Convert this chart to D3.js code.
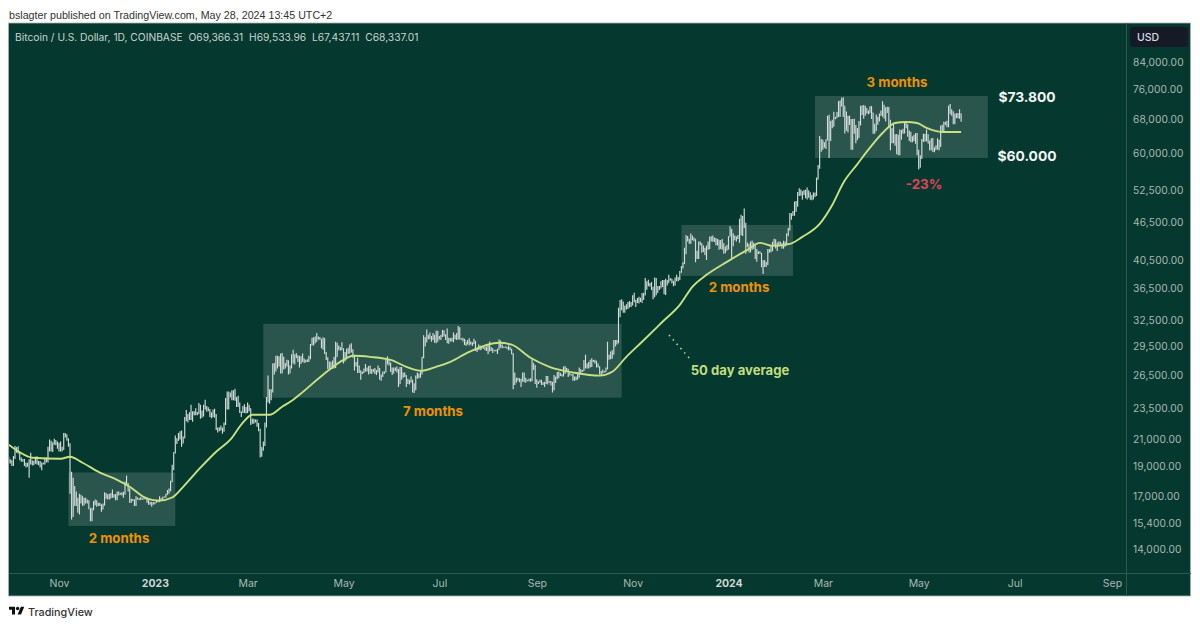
<!DOCTYPE html>
<html>
<head>
<meta charset="utf-8">
<title>Bitcoin / U.S. Dollar</title>
<script src="https://cdn.jsdelivr.net/npm/d3@7"></script>
<style>
  html, body { margin: 0; padding: 0; background: #fff; }
  svg { display: block; font-family: Inter, "Noto Sans", sans-serif; }
</style>
</head>
<body>
<svg id="chart" width="1200" height="626"></svg>
<script>
// daily bars in thousands of dollars, first day is 2022-09-30
var firstDay = '2022-09-30';

var closes = [
  19.42,
  // oct 22
  19.31,19.05,19.62,20.34,20.16,19.96,19.53,19.42,19.44,19.13,19.06,19.16,19.38,19.18,19.07,19.26,19.55,19.33,19.12,19.04,19.16,19.20,19.57,19.33,20.09,20.77,20.29,20.60,20.82,20.63,20.50,
  // nov
  20.48,20.15,20.21,21.15,21.30,20.93,20.60,18.54,15.88,17.59,17.04,16.80,16.35,16.62,16.90,16.66,16.69,16.69,16.70,16.28,15.78,16.19,16.61,16.60,16.52,16.46,16.43,16.21,16.44,17.17,
  // dec
  16.97,17.09,16.89,17.11,16.97,17.09,16.84,17.22,17.13,17.13,17.09,17.21,17.78,17.81,17.36,16.63,16.78,16.74,16.44,16.90,16.82,16.83,16.83,16.84,16.84,16.92,16.71,16.55,16.63,16.60,16.54,
  // jan 23
  16.61,16.67,16.67,16.85,16.83,16.95,16.94,17.09,17.20,17.44,17.94,18.85,19.93,20.95,20.87,21.18,21.13,20.67,21.07,22.67,22.78,22.71,22.92,22.63,23.06,23.02,23.08,23.03,23.74,22.84,23.13,
  // feb
  23.73,23.49,23.43,23.33,22.94,22.76,23.26,22.96,21.80,21.63,21.86,21.79,21.77,22.20,24.33,23.52,24.57,24.63,24.29,24.84,24.45,24.18,23.95,23.19,23.16,23.56,23.49,23.15,
  // mar
  23.65,23.47,22.36,22.35,22.43,22.41,22.20,21.71,20.36,20.19,20.63,22.16,24.20,24.75,24.38,25.05,27.42,26.97,28.04,27.77,28.17,27.31,28.33,27.49,27.49,28.00,27.14,27.27,28.35,28.03,28.47,
  // apr
  28.47,28.19,27.79,28.17,28.18,28.04,27.92,27.95,28.33,29.65,30.23,29.89,30.40,30.49,30.32,30.32,29.43,30.39,28.82,28.25,27.27,27.82,27.59,27.51,28.30,28.42,29.47,29.34,29.25,29.23,
  // may
  28.07,28.67,29.03,28.85,29.54,28.90,28.45,27.69,27.63,27.39,26.98,26.80,26.78,26.93,27.17,27.04,27.40,26.83,26.89,27.12,26.75,26.85,27.22,26.33,26.47,26.72,26.86,28.08,27.74,27.70,27.22,
  // jun
  26.82,27.25,27.07,27.12,25.73,27.24,26.34,26.50,26.48,25.85,25.94,25.90,25.92,25.13,25.58,26.34,26.51,26.34,26.84,28.31,30.03,29.99,30.69,30.55,30.47,30.27,30.69,30.08,30.45,30.48,
  // jul
  30.59,30.62,31.16,30.77,30.51,29.90,30.35,30.29,30.17,30.41,30.62,30.39,31.48,30.31,30.30,30.25,30.15,29.86,29.92,29.80,29.91,29.80,30.08,29.18,29.23,29.35,29.21,29.32,29.36,29.28,29.23,
  // aug
  29.70,29.18,29.19,29.08,29.04,29.05,29.18,29.77,29.56,29.43,29.40,29.42,29.28,29.41,29.17,28.70,26.66,26.05,26.10,26.19,26.12,26.04,26.43,26.16,26.05,26.00,26.09,26.10,27.73,27.30,25.93,
  // sep
  25.80,25.87,25.97,25.81,25.78,25.75,26.24,25.91,25.90,25.84,25.16,25.84,26.23,26.54,26.60,26.57,26.53,26.76,27.21,27.13,26.57,26.58,26.58,26.25,26.30,26.22,26.37,27.03,26.91,26.97,
  // oct
  27.98,27.59,27.43,27.80,27.41,27.95,27.97,27.94,27.60,27.39,26.87,26.76,26.86,26.86,27.16,28.52,28.42,28.33,28.72,29.68,29.92,29.99,33.09,33.90,34.50,34.15,33.91,34.09,34.54,34.50,34.67,
  // nov
  35.44,34.94,34.73,35.08,35.05,35.05,35.42,35.63,36.70,37.31,37.13,37.07,36.46,35.55,37.88,36.15,36.60,36.58,37.39,37.47,35.81,37.42,37.29,37.72,37.79,37.48,37.25,37.83,37.85,37.72,
  // dec
  38.69,39.47,39.98,41.98,44.08,43.77,43.29,44.17,43.73,43.79,41.24,41.45,42.89,43.02,41.93,42.24,41.36,42.66,42.26,43.65,43.86,43.99,43.74,43.02,43.61,42.52,43.44,42.58,42.07,42.14,42.27,
  // jan 24
  44.18,44.95,42.85,44.18,44.16,43.97,43.93,46.97,46.13,46.66,46.34,42.78,42.84,41.73,42.51,43.14,42.74,41.26,41.62,41.66,41.55,39.51,39.85,40.08,39.93,41.82,42.12,42.03,43.30,42.95,42.58,
  // feb
  43.08,43.19,42.99,42.58,42.66,43.08,44.34,45.29,47.13,47.77,48.29,49.96,49.70,51.80,51.92,52.13,51.64,52.12,51.78,52.27,51.85,51.30,50.73,51.57,51.73,54.52,57.09,62.50,61.20,
  // mar
  62.44,62.03,63.14,68.27,63.80,66.11,66.92,68.30,68.50,69.02,72.12,71.48,73.08,71.40,69.40,65.31,68.39,67.61,61.93,67.84,65.50,63.79,64.04,67.21,69.88,69.96,69.45,70.78,69.87,69.64,71.29,
  // apr
  69.70,65.45,65.98,68.50,67.84,69.00,69.36,71.62,69.15,70.62,70.01,67.12,63.91,65.74,63.42,63.79,61.28,63.47,63.82,64.94,64.94,66.84,66.41,64.28,64.48,63.76,63.42,63.11,63.84,60.64,
  // may
  58.25,59.12,62.89,63.89,64.03,63.16,62.33,61.19,63.05,60.79,60.82,61.45,62.94,61.58,66.22,65.24,67.05,66.92,66.27,71.45,70.14,69.12,67.93,68.53,69.28,68.50,69.39,68.34
];

var highs = [
  19.65,
  19.48,19.40,19.72,20.45,20.36,20.44,20.05,19.60,19.50,19.50,19.25,19.23,19.48,19.95,19.40,19.37,19.65,19.70,19.35,19.35,19.25,19.25,19.60,19.60,20.40,20.95,20.85,20.73,21.00,20.90,20.80,
  20.70,20.80,20.40,21.45,21.45,21.35,21.05,20.65,18.60,18.20,17.65,17.30,16.90,17.15,17.10,17.00,16.90,16.90,16.80,16.75,16.25,16.30,16.70,16.80,16.75,16.60,16.60,16.50,16.55,17.25,
  17.20,17.12,17.15,17.20,17.42,17.12,17.14,17.30,17.30,17.22,17.25,17.28,17.95,18.35,17.85,17.50,16.85,16.82,16.80,17.00,16.92,16.87,16.95,16.88,16.87,16.96,16.95,16.77,16.65,16.65,16.65,
  16.63,16.76,16.78,17.00,16.88,16.97,16.98,17.15,17.39,17.49,18.00,19.08,20.00,21.25,21.05,21.45,21.60,21.65,21.18,22.75,23.35,23.00,23.15,23.80,23.25,23.25,23.50,23.17,23.95,23.80,23.30,
  23.80,24.25,23.70,23.58,23.43,23.15,23.40,23.45,23.00,21.90,21.90,22.05,21.90,22.30,24.40,25.00,25.00,24.90,25.10,25.10,25.25,24.50,24.60,24.00,23.22,23.70,23.85,23.60,
  24.00,23.80,23.48,22.60,22.60,22.55,22.55,22.25,21.80,20.35,20.80,22.30,24.50,26.50,25.20,25.20,27.70,27.75,28.50,28.50,28.45,28.75,28.80,28.40,27.75,28.10,28.00,27.50,28.65,29.15,28.65,
  28.80,28.55,28.50,28.45,28.75,28.18,28.10,28.15,28.50,29.75,30.45,30.50,30.60,30.98,30.60,30.55,30.30,30.50,30.40,28.90,28.35,27.90,27.80,28.00,28.40,30.00,29.90,29.60,29.45,29.95,
  29.30,28.90,29.25,29.35,29.70,29.85,29.20,28.60,27.85,28.30,27.50,26.98,26.90,27.20,27.65,27.30,27.45,27.50,27.15,27.15,27.25,27.05,27.50,27.25,26.60,26.90,26.90,28.25,28.45,28.05,27.80,
  27.30,27.30,27.30,27.40,27.15,27.35,27.35,26.80,26.80,26.55,26.20,26.10,26.40,26.10,25.75,26.50,26.80,26.70,26.95,28.40,30.75,30.50,31.40,30.80,31.05,30.65,31.00,30.80,31.25,31.25,
  30.65,30.80,31.35,31.30,30.85,31.50,30.45,30.40,30.45,31.05,30.80,30.98,31.80,31.65,30.40,30.45,30.35,30.00,30.20,30.40,30.05,29.95,30.35,30.10,29.35,29.70,29.60,29.55,29.41,29.45,29.50,
  29.75,30.05,29.45,29.30,29.10,29.15,29.25,30.25,30.15,29.70,29.50,29.45,29.45,29.60,29.45,29.25,28.80,26.80,26.30,26.30,26.25,26.20,26.80,26.80,26.30,26.10,26.20,26.25,28.15,27.75,27.55,
  26.15,25.95,26.10,26.10,25.85,25.90,26.45,26.45,25.95,25.98,25.90,26.55,26.40,26.85,26.90,26.78,26.62,27.40,27.45,27.25,27.15,26.75,26.60,26.70,26.40,26.40,26.80,27.30,27.15,27.05,
  28.05,28.60,27.70,27.85,28.10,28.25,28.05,28.10,27.95,27.70,27.40,26.95,27.10,26.95,27.30,30.00,28.60,28.95,29.10,30.20,30.20,30.20,34.00,35.00,35.10,34.80,34.25,34.45,34.75,34.85,34.70,
  35.60,35.95,35.00,35.25,35.40,35.30,35.90,35.95,37.95,37.50,37.70,37.25,37.40,36.75,38.00,37.95,36.85,36.85,37.50,37.65,37.65,37.85,37.65,38.40,37.90,37.80,37.55,38.00,38.40,38.10,
  38.95,39.65,40.20,42.40,44.45,44.30,43.85,44.70,44.35,44.05,43.75,41.95,43.40,43.40,43.10,42.75,42.40,42.75,43.40,44.20,44.25,44.35,44.00,43.95,43.80,43.60,43.65,43.80,43.10,42.60,42.85,
  44.20,45.90,45.50,44.75,44.35,44.20,44.45,47.20,47.90,47.65,49.00,46.50,43.25,43.05,43.40,43.55,43.20,42.90,42.20,41.85,41.85,41.60,40.50,40.55,40.25,42.20,42.20,42.80,43.30,43.85,43.75,
  43.25,43.45,43.35,43.10,43.50,43.40,44.75,45.60,48.20,48.15,48.55,50.30,50.35,52.05,52.80,52.55,52.20,52.45,52.50,52.95,52.35,52.00,51.50,51.95,51.95,54.90,57.50,63.95,63.25,
  63.10,62.45,63.20,68.95,69.20,67.60,67.95,69.95,68.65,69.90,72.80,72.90,73.65,73.80,71.40,70.00,68.90,68.95,68.10,68.10,68.20,66.60,65.90,67.60,71.50,71.55,71.70,71.50,70.90,70.30,71.30,
  71.35,69.70,66.90,69.25,68.70,69.50,70.30,72.70,71.75,71.10,71.25,71.20,67.90,65.80,66.85,64.40,64.45,64.30,65.50,65.40,65.70,67.20,67.20,66.80,65.30,65.00,63.90,64.30,64.70,64.70,
  60.80,59.60,63.30,64.50,64.50,65.50,64.40,62.95,63.45,63.50,61.40,61.85,63.45,63.10,66.50,66.70,67.40,67.40,67.70,71.50,71.95,70.60,70.05,69.50,69.55,69.60,70.60,69.53
];

var lows = [
  19.20,
  19.18,19.00,19.00,19.50,19.95,19.90,19.40,19.30,19.30,19.00,18.90,18.95,18.20,19.10,19.05,19.07,19.15,19.10,19.05,18.90,18.70,19.10,19.10,19.25,19.25,20.05,20.05,20.00,20.55,20.50,20.25,
  20.05,20.05,20.05,20.15,21.10,20.85,20.40,17.15,15.60,15.75,16.40,16.40,16.00,15.90,16.55,16.40,16.45,16.55,16.55,16.20,15.50,15.50,16.15,16.45,16.35,16.40,16.40,16.05,16.20,16.45,
  16.85,16.80,16.80,16.88,16.90,16.90,16.75,16.75,17.05,17.10,17.05,16.90,17.10,17.70,17.30,16.58,16.60,16.70,16.40,16.40,16.80,16.75,16.77,16.78,16.80,16.83,16.60,16.47,16.47,16.35,16.48,
  16.50,16.60,16.62,16.65,16.75,16.78,16.90,16.90,17.10,17.15,17.32,17.90,18.70,19.90,20.60,20.85,20.95,20.40,20.65,21.05,22.40,22.30,22.50,22.50,22.35,22.90,22.90,22.90,23.00,22.60,22.70,
  22.80,23.40,23.20,23.25,22.75,22.65,22.75,22.70,21.70,21.50,21.60,21.65,21.40,21.55,22.10,23.40,23.40,24.45,24.20,24.20,24.15,23.60,23.60,23.10,22.75,23.10,23.10,23.05,
  23.10,23.25,22.10,22.20,22.20,22.30,21.95,21.60,19.60,19.65,20.10,20.45,21.90,24.00,23.90,24.20,24.90,26.60,26.90,27.20,27.40,26.70,26.70,27.10,27.20,27.40,26.60,26.70,27.20,27.70,27.60,
  28.25,27.85,27.30,27.65,27.85,27.75,27.80,27.85,27.85,28.15,29.60,29.60,29.85,30.00,30.25,30.20,29.30,29.15,28.70,28.05,27.15,27.15,27.30,27.15,27.20,27.25,28.40,29.10,29.05,29.10,
  27.70,27.90,28.15,28.70,28.75,28.85,28.30,27.00,27.40,26.75,26.75,26.10,26.65,26.75,26.90,26.90,26.60,26.70,26.65,26.85,26.65,26.55,26.80,26.10,26.00,26.35,26.65,26.80,27.60,27.50,26.85,
  26.55,26.70,26.95,26.80,25.40,25.70,26.10,26.30,26.35,25.40,25.70,25.65,25.80,24.90,24.85,25.10,26.20,26.25,26.30,26.60,28.25,29.50,29.95,30.30,30.30,30.00,30.20,29.90,29.85,30.00,
  30.25,30.20,30.55,30.60,30.20,29.85,29.80,30.05,30.05,29.95,30.30,30.20,30.25,30.25,30.25,30.05,29.65,29.55,29.70,29.60,29.70,29.55,29.75,29.00,28.90,29.15,29.10,29.25,29.25,29.10,29.00,
  28.65,28.95,29.00,28.80,29.00,28.95,28.70,29.15,29.35,29.30,29.35,29.35,29.25,29.10,29.10,28.65,25.20,25.60,25.80,26.00,25.85,25.40,25.90,25.85,25.80,25.95,25.95,25.90,25.95,27.05,25.70,
  25.35,25.70,25.80,25.60,25.60,25.40,25.70,25.65,25.80,25.55,24.90,25.10,25.80,26.15,26.25,26.45,26.40,26.40,26.65,26.85,26.35,26.50,26.50,26.00,26.00,26.05,26.10,26.30,26.65,26.85,
  26.95,27.20,27.20,27.20,27.30,27.35,27.85,27.70,27.30,27.30,26.60,26.55,26.70,26.80,26.85,27.10,28.10,28.15,28.20,28.60,29.50,29.70,29.85,32.85,33.70,33.40,33.40,33.80,33.85,34.05,34.10,
  34.30,34.70,34.10,34.60,34.55,34.75,34.60,35.00,35.60,36.35,36.80,36.75,36.30,35.10,35.35,35.60,35.90,36.30,36.50,36.70,35.75,35.65,36.90,37.25,37.55,37.20,36.80,36.90,37.50,37.50,
  37.65,38.70,39.30,39.95,41.40,43.40,43.05,43.00,43.60,43.45,40.20,40.70,40.70,42.80,41.65,41.75,41.30,40.55,42.10,42.20,43.40,43.35,43.30,42.80,42.75,42.10,42.20,42.10,41.50,41.55,41.95,
  42.15,44.20,40.75,42.65,43.60,43.40,43.80,43.20,44.40,44.30,45.60,41.50,42.50,41.70,41.75,42.05,42.20,40.70,40.30,41.45,41.50,39.50,38.50,39.50,39.50,39.80,41.65,41.70,41.85,42.70,42.30,
  41.90,42.60,42.90,42.30,42.25,42.55,42.80,44.30,45.20,47.00,47.70,47.70,48.40,49.30,51.30,51.35,50.60,51.50,50.90,50.65,51.00,50.60,50.50,50.70,51.10,51.30,54.50,56.70,60.40,
  60.80,61.30,61.00,62.90,59.00,62.80,65.80,66.20,68.05,68.30,68.60,68.65,71.30,68.60,64.60,65.30,64.80,66.60,60.80,60.80,64.50,62.30,63.00,63.50,66.50,69.10,68.20,68.90,69.50,69.30,69.60,
  68.10,64.50,64.50,65.10,66.70,67.50,69.00,68.70,68.20,67.50,69.60,66.00,60.70,62.30,62.30,61.70,59.80,59.60,59.60,63.10,64.50,64.60,65.80,63.80,62.80,62.50,62.50,62.80,62.20,59.60,
  56.55,56.90,58.80,62.60,62.70,62.70,62.30,60.65,60.70,60.30,60.25,60.80,60.80,60.70,61.50,64.70,65.10,66.60,66.10,66.10,69.30,68.90,66.80,66.80,68.30,68.30,68.20,67.44
];

// 50 day average
var maDates = ['2022-09-30','2022-10-07','2022-10-15','2022-11-02','2022-11-08','2022-11-16','2022-11-27','2022-12-08','2022-12-16','2022-12-27',
  '2023-01-04','2023-01-12','2023-01-19','2023-01-30','2023-02-09','2023-02-18','2023-02-26','2023-03-04','2023-03-15','2023-03-23','2023-03-30',
  '2023-04-03','2023-04-18','2023-05-01','2023-05-07','2023-05-18','2023-05-31','2023-06-10','2023-06-20','2023-06-29','2023-07-08','2023-07-20',
  '2023-08-08','2023-08-16','2023-08-28','2023-09-09','2023-09-25','2023-10-11','2023-10-19','2023-10-28','2023-11-07','2023-11-20','2023-12-01',
  '2023-12-09','2023-12-18','2023-12-31','2024-01-13','2024-01-21','2024-01-29','2024-02-09','2024-02-17','2024-02-28','2024-03-07','2024-03-14',
  '2024-03-23','2024-03-31','2024-04-08','2024-04-16','2024-04-23','2024-04-30','2024-05-06','2024-05-16','2024-05-28'];
var maValues = [20550,19980,19590,19510,19660,19230,18540,18060,17600,16850,
  16730,16920,17600,18880,20020,20930,22280,22940,22940,23630,24240,
  24690,26580,28080,28500,28390,28080,27370,26970,27370,27880,28920,
  29900,29690,28290,27370,26780,26490,26870,28390,30010,32300,34380,
  36730,38390,40270,42090,43180,42710,43020,44150,46300,49640,53840,
  57700,61300,64700,67120,67370,67120,65910,64940,64940];

var yTicks = [84000,76000,68000,60000,52500,46500,40500,36500,32500,29500,26500,23500,21000,19000,17000,15400,14000];
var xTickDates = ['2022-11-01','2023-01-01','2023-03-01','2023-05-01','2023-07-01','2023-09-01','2023-11-01','2024-01-01','2024-03-01','2024-05-01','2024-07-01','2024-09-01'];
var xTickLabels = ['Nov','2023','Mar','May','Jul','Sep','Nov','2024','Mar','May','Jul','Sep'];

// consolidation boxes
var boxStarts = ['2022-11-07','2023-03-11','2023-12-02','2024-02-25'];
var boxEnds = ['2023-01-14','2023-10-25','2024-02-11','2024-06-14'];
var boxTops = [18550,32050,46130,74130];
var boxBottoms = [15240,24430,38250,59020];

var parseDay = d3.utcParse('%Y-%m-%d');

if(closes.length != highs.length || closes.length != lows.length) {
	throw new Error('bar arrays differ ' + closes.length + ' ' + highs.length + ' ' + lows.length);
}

var bg = '#05382e';
var axisText = '#a9b9b4';
var gridLine = '#2d5a50';
var orange = '#ee9200';
var green = '#c8e183';

var svg = d3.select('#chart');

var x = d3.scaleUtc().domain([parseDay('2022-11-01'), parseDay('2024-09-01')]).range([59, 1112]);
var y = d3.scaleLog().domain([14000, 84000]).range([549, 62]);

// header line
svg.append('text').attr('x', 9).attr('y', 19).attr('font-size', 10.7).attr('font-family', 'Liberation Sans').attr('fill', '#333')
	.text('bslagter published on TradingView.com, May 28, 2024 13:45 UTC+2');

// panel
svg.append('rect').attr('x', 8.5).attr('y', 23).attr('width', 1182).attr('height', 573)
	.attr('fill', bg).attr('stroke', '#a9b5b1').attr('stroke-width', 0.8);
svg.append('line').attr('x1', 1126.5).attr('x2', 1126.5).attr('y1', 23).attr('y2', 596).attr('stroke', gridLine);
svg.append('line').attr('x1', 9).attr('x2', 1191).attr('y1', 573.5).attr('y2', 573.5).attr('stroke', gridLine);

svg.append('defs').append('clipPath').attr('id', 'plot').append('rect')
	.attr('x', 9).attr('y', 23).attr('width', 1117).attr('height', 550);

var plot = svg.append('g').attr('clip-path', 'url(#plot)');

// boxes
plot.selectAll('rect.box').data(boxStarts).enter().append('rect')
	.attr('class', 'box')
	.attr('x', function(d) { return x(parseDay(d)); })
	.attr('width', function(d, i) { return x(parseDay(boxEnds[i])) - x(parseDay(d)); })
	.attr('y', function(d, i) { return y(boxTops[i]); })
	.attr('height', function(d, i) { return y(boxBottoms[i]) - y(boxTops[i]); })
	.attr('fill', '#fff').attr('fill-opacity', 0.15);

// ohlc bars, open is the close before
var t0 = parseDay(firstDay);
plot.selectAll('path.bar').data(closes).enter().append('path')
	.attr('class', 'bar')
	.attr('d', function(c, i) {
		var px = x(d3.utcDay.offset(t0, i));
		var open = i > 0 ? closes[i - 1] : c;
		return 'M' + px + ',' + y(highs[i] * 1000) + 'V' + y(lows[i] * 1000) +
			'M' + (px - 0.6) + ',' + y(open * 1000) + 'H' + px +
			'M' + px + ',' + y(c * 1000) + 'H' + (px + 0.6);
	})
	.attr('fill', 'none').attr('stroke', '#d2dbd8').attr('stroke-width', 1.15);

// 50 day average
var maLine = d3.line()
	.x(function(d) { return x(parseDay(d)); })
	.y(function(d, i) { return y(maValues[i]); })
	.curve(d3.curveMonotoneX);
plot.append('path').attr('d', maLine(maDates))
	.attr('fill', 'none').attr('stroke', green).attr('stroke-width', 1.9);

// axes
var yAxis = svg.append('g').attr('transform', 'translate(1127,0)')
	.call(d3.axisRight(y).tickValues(yTicks).tickSize(0).tickPadding(6).tickFormat(d3.format(',.2f')));
var xAxis = svg.append('g').attr('transform', 'translate(0,573)')
	.call(d3.axisBottom(x).tickValues(xTickDates.map(parseDay)).tickSize(0).tickPadding(7)
		.tickFormat(function(d, i) { return xTickLabels[i]; }));
yAxis.select('.domain').remove();
xAxis.select('.domain').remove();
yAxis.selectAll('text').attr('font-size', 10.2).attr('fill', axisText).attr('font-family', 'Inter').style('letter-spacing', '0.1px');
xAxis.selectAll('text').attr('font-size', 10.5).attr('fill', axisText).attr('font-family', 'Inter')
	.attr('font-weight', function(d, i) { return xTickLabels[i].length == 4 ? 700 : 400; })
	.attr('fill', function(d, i) { return xTickLabels[i].length == 4 ? '#cfd8d5' : axisText; });

// usd badge
svg.append('rect').attr('x', 1130).attr('y', 27).attr('width', 58).attr('height', 20).attr('rx', 3).attr('fill', '#151a26');
svg.append('text').attr('x', 1137).attr('y', 41).attr('font-size', 10.5).attr('font-weight', 500).attr('fill', '#d5dbe0').text('USD');

// symbol line
svg.append('text').attr('x', 15).attr('y', 41).attr('font-size', 10.25).attr('fill', '#c9d4d0')
	.attr('xml:space', 'preserve')
	.text('Bitcoin / U.S. Dollar, 1D, COINBASE  O69,366.31  H69,533.96  L67,437.11  C68,337.01');

// annotations
var noteText = ['2 months','7 months','2 months','3 months','50 day average','-23%','$73.800','$60.000'];
var noteX = [119,433,739,897,740,924,1027,1027];
var noteY = [543,416,292,86.5,375,189,102,161];
var noteColor = [orange,orange,orange,orange,'#c2de7e','#e2455a','#f2f5f4','#f2f5f4'];
var noteSize = [13.3,13.3,13.3,13.3,13.1,13.3,13.8,13.8];

svg.selectAll('text.note').data(noteText).enter().append('text')
	.attr('class', 'note')
	.attr('x', function(d, i) { return noteX[i]; })
	.attr('y', function(d, i) { return noteY[i]; })
	.attr('text-anchor', 'middle')
	.attr('font-size', function(d, i) { return noteSize[i]; })
	.attr('font-weight', 700)
	.attr('fill', function(d, i) { return noteColor[i]; })
	.text(function(d) { return d; });

// dots from the label up to the line
svg.append('line').attr('x1', 669).attr('y1', 335).attr('x2', 690).attr('y2', 359)
	.attr('stroke', '#c2de7e').attr('stroke-width', 1.6).attr('stroke-dasharray', '1.5 4.3');

// footer logo
var logo = svg.append('g').attr('transform', 'translate(9,605) scale(0.43)').attr('fill', '#111');
logo.append('path').attr('d', 'M14 22H7V11H0V4h14v18zM28 22h-8l7.5-18h8L28 22z');
logo.append('circle').attr('cx', 20).attr('cy', 8).attr('r', 4);
svg.append('text').attr('x', 28).attr('y', 615.5).attr('font-size', 10.8).attr('font-weight', 500).attr('fill', '#333').text('TradingView');
</script>
</body>
</html>
